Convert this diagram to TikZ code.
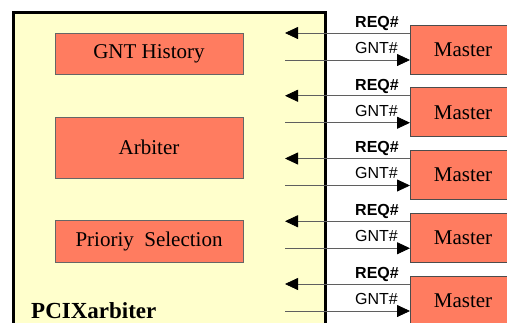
\documentclass[tikz,border=0pt]{standalone}
\usepackage{fontspec}
\setmainfont{Liberation Serif}
\setsansfont{Liberation Sans}
\usetikzlibrary{arrows.meta}
\definecolor{salmon}{RGB}{255,124,96}
\definecolor{paleyellow}{RGB}{255,255,204}
\definecolor{wire}{RGB}{95,95,95}
\begin{document}
\begin{tikzpicture}[x=1pt,y=-1pt,
  block/.style={draw=gray!80!black, line width=0.8pt, fill=salmon, minimum width=188pt,
    font=\fontsize{21}{24}\selectfont, inner sep=0pt, outer sep=0pt},
  master/.style={draw=gray!60!black, line width=0.8pt, fill=salmon, minimum width=106pt,
    minimum height=49pt, font=\fontsize{21}{24}\selectfont, inner sep=0pt, outer sep=0pt},
  sig/.style={draw=wire, line width=0.8pt, -{Triangle[length=13pt,width=12pt,color=black]}},
  siglabel/.style={font=\sffamily\fontsize{16}{18}\selectfont, anchor=base west, inner sep=0pt},
  reqlabel/.style={siglabel, font=\sffamily\bfseries\fontsize{16}{18}\selectfont},
]
\useasboundingbox (0,0) rectangle (507,322);
\clip (0,0) rectangle (507,322);
\node[draw=black, line width=2.8pt, fill=paleyellow, minimum width=312.4pt, minimum height=330pt,
  anchor=north west, inner sep=0pt, outer sep=0pt] (chip) at (13.3,12.3) {};
\node[block, minimum height=41pt] (hist) at (149,53.5) {GNT History};
\node[block, minimum height=61pt] (arb) at (149,147.5) {Arbiter};
\node[block, minimum height=42pt] (prio) at (149,241) {Prioriy\ \ Selection};
\node[anchor=base west, font=\bfseries\fontsize{23}{26}\selectfont, inner sep=0pt] (title) at (31,318.5) {PCIXarbiter};
\foreach \i in {0,...,4} {
  \pgfmathsetmacro{\t}{25+62.75*\i}
  \node[master, anchor=north west] (m\i) at (410,\t) {Master};
  \coordinate (req\i) at (285,\t+8);
  \coordinate (gnt\i) at (285,\t+35);
  \draw[sig] (m\i.west |- req\i) -- (req\i);
  \draw[sig] (gnt\i) -- (m\i.west |- gnt\i);
  \node[reqlabel] (rl\i) at (355,\t+2.3) {REQ\#};
  \node[siglabel] (gl\i) at (355,\t+28.3) {GNT\#};
}
\end{tikzpicture}
\end{document}
